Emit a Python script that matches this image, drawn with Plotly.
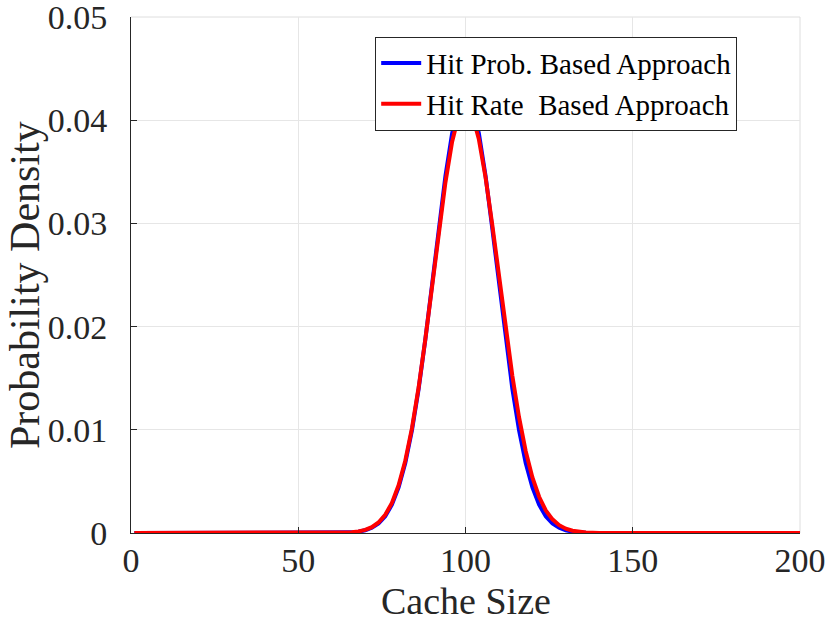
import plotly.graph_objects as go

# Cache size samples (x) and estimated densities
cache_size = [1, 55, 60, 64, 66, 68, 70, 72, 74, 76, 78, 80, 82, 84, 86, 88, 90,
              92, 94, 96, 98, 100, 102, 104, 106, 108, 110, 112, 114, 116, 118,
              120, 122, 124, 126, 128, 130, 132, 134, 136, 140, 150, 200]

hit_prob = [0.0, 0.0, 0.000005, 0.000027, 0.000061, 0.000129, 0.00026, 0.000502,
            0.000925, 0.00163, 0.00274, 0.00441, 0.00678, 0.00996, 0.01399, 0.01877,
            0.02408, 0.02952, 0.03459, 0.03873, 0.04145, 0.0424, 0.04145, 0.03873,
            0.03459, 0.02952, 0.02408, 0.01877, 0.01399, 0.00996, 0.00678, 0.00441,
            0.00274, 0.00163, 0.000925, 0.000502, 0.00026, 0.000129, 0.000061,
            0.000027, 0.000005, 0.0, 0.0]

hit_rate = [0.0, 0.0, 0.000006, 0.000034, 0.000073, 0.000151, 0.000298, 0.00056,
            0.00102, 0.00176, 0.00291, 0.00462, 0.00701, 0.01017, 0.01413, 0.0188,
            0.02393, 0.02915, 0.03398, 0.03792, 0.0405, 0.0414, 0.04056, 0.03815,
            0.03445, 0.02987, 0.02486, 0.01986, 0.01523, 0.01122, 0.00793, 0.00538,
            0.00351, 0.00219, 0.00132, 0.00076, 0.00042, 0.000223, 0.000114,
            0.000056, 0.000012, 0.0, 0.0]

x_ticks = [0, 50, 100, 150, 200]
y_ticks = [0, 0.01, 0.02, 0.03, 0.04, 0.05]
y_tick_labels = ["0", "0.01", "0.02", "0.03", "0.04", "0.05"]
x_title = "Cache Size"
y_title = "Probability Density"

FONT = "Liberation Serif, Times New Roman, serif"
AX = "#262626"
GRID = "#e6e6e6"

fig = go.Figure()
fig.add_trace(go.Scatter(x=cache_size, y=hit_prob, mode="lines",
                         name="Hit Prob. Based Approach",
                         line=dict(color="#0000ff", width=4)))
fig.add_trace(go.Scatter(x=cache_size, y=hit_rate, mode="lines",
                         name="Hit Rate  Based Approach",
                         line=dict(color="#ff0000", width=4)))

# light box edges on top and right (MATLAB-style grid border)
fig.add_shape(type="line", xref="paper", yref="paper", x0=0, x1=1, y0=1, y1=1,
              line=dict(color="#dedede", width=1), layer="below")
fig.add_shape(type="line", xref="paper", yref="paper", x0=1, x1=1, y0=0, y1=1,
              line=dict(color="#dedede", width=1), layer="below")

# axis titles placed as annotations for exact positioning
fig.add_annotation(text=x_title, xref="paper", yref="paper", x=0.5, y=-0.1318,
                   xanchor="center", yanchor="middle", showarrow=False,
                   font=dict(size=38, family=FONT, color=AX))
fig.add_annotation(text=y_title, xref="paper", yref="paper", x=-0.1584, y=0.4806,
                   xanchor="center", yanchor="middle", showarrow=False,
                   textangle=-90, font=dict(size=42, family=FONT, color=AX))

fig.update_layout(
    width=830, height=617,
    margin=dict(l=131, r=30, t=17, b=84),
    paper_bgcolor="white", plot_bgcolor="white",
    font=dict(family=FONT, color=AX),
    showlegend=True,
    legend=dict(x=0.365, y=0.962, xanchor="left", yanchor="top",
                bgcolor="white", bordercolor=AX, borderwidth=1,
                font=dict(family=FONT, size=29, color="black"),
                itemwidth=40, tracegroupgap=0),
    xaxis=dict(range=[0, 200], tickvals=x_ticks, ticks="inside", ticklen=6,
               tickcolor=AX, showline=True, linecolor=AX, linewidth=1,
               showgrid=True, gridcolor=GRID, zeroline=False,
               ticklabeloverflow="allow", ticklabelstandoff=-3,
               tickfont=dict(size=34, family=FONT, color=AX),
               automargin=False),
    yaxis=dict(range=[0, 0.05], tickvals=y_ticks, ticktext=y_tick_labels,
               ticks="inside", ticklen=6, tickcolor=AX, showline=True,
               linecolor=AX, linewidth=1, showgrid=True, gridcolor=GRID,
               zeroline=False, ticklabelstandoff=16, ticklabeloverflow="allow",
               tickfont=dict(size=34, family=FONT, color=AX),
               automargin=False),
)

fig.write_html("out.html", config={"displayModeBar": False},
               post_script="document.body.style.margin='0px';")
